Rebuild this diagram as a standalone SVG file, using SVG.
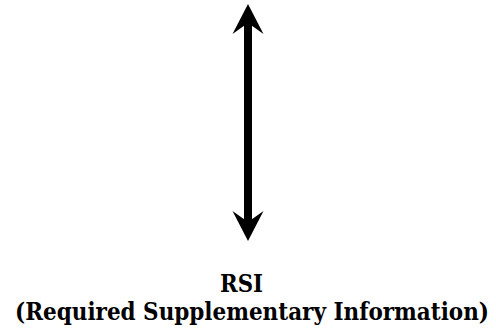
<svg xmlns="http://www.w3.org/2000/svg" width="496" height="335" viewBox="0 0 496 335">
  <style>
    .lbl { font-family: "DejaVu Serif", "Liberation Serif", serif; font-weight: bold; font-size: 24px; fill: #000; }
    .conn { stroke: #000; stroke-width: 8; fill: none; }
  </style>
  <defs>
    <marker id="head" markerUnits="userSpaceOnUse" viewBox="-12 -16 32 32" refX="0" refY="0" markerWidth="32" markerHeight="32" orient="auto-start-reverse">
      <path d="M19,0 L-11,-15.5 L0,0 L-11,15.5 Z" fill="#000"/>
    </marker>
  </defs>
  <rect width="496" height="335" fill="#fff"/>
  <g id="connectors">
    <line class="conn" x1="248" y1="23" x2="248" y2="222" marker-start="url(#head)" marker-end="url(#head)"/>
  </g>
  <g id="rsi-label">
    <text class="lbl" x="241.5" y="292" text-anchor="middle" textLength="43" lengthAdjust="spacingAndGlyphs">RSI</text>
    <text class="lbl" x="252" y="320" text-anchor="middle" textLength="474" lengthAdjust="spacingAndGlyphs">(Required Supplementary Information)</text>
  </g>
</svg>
